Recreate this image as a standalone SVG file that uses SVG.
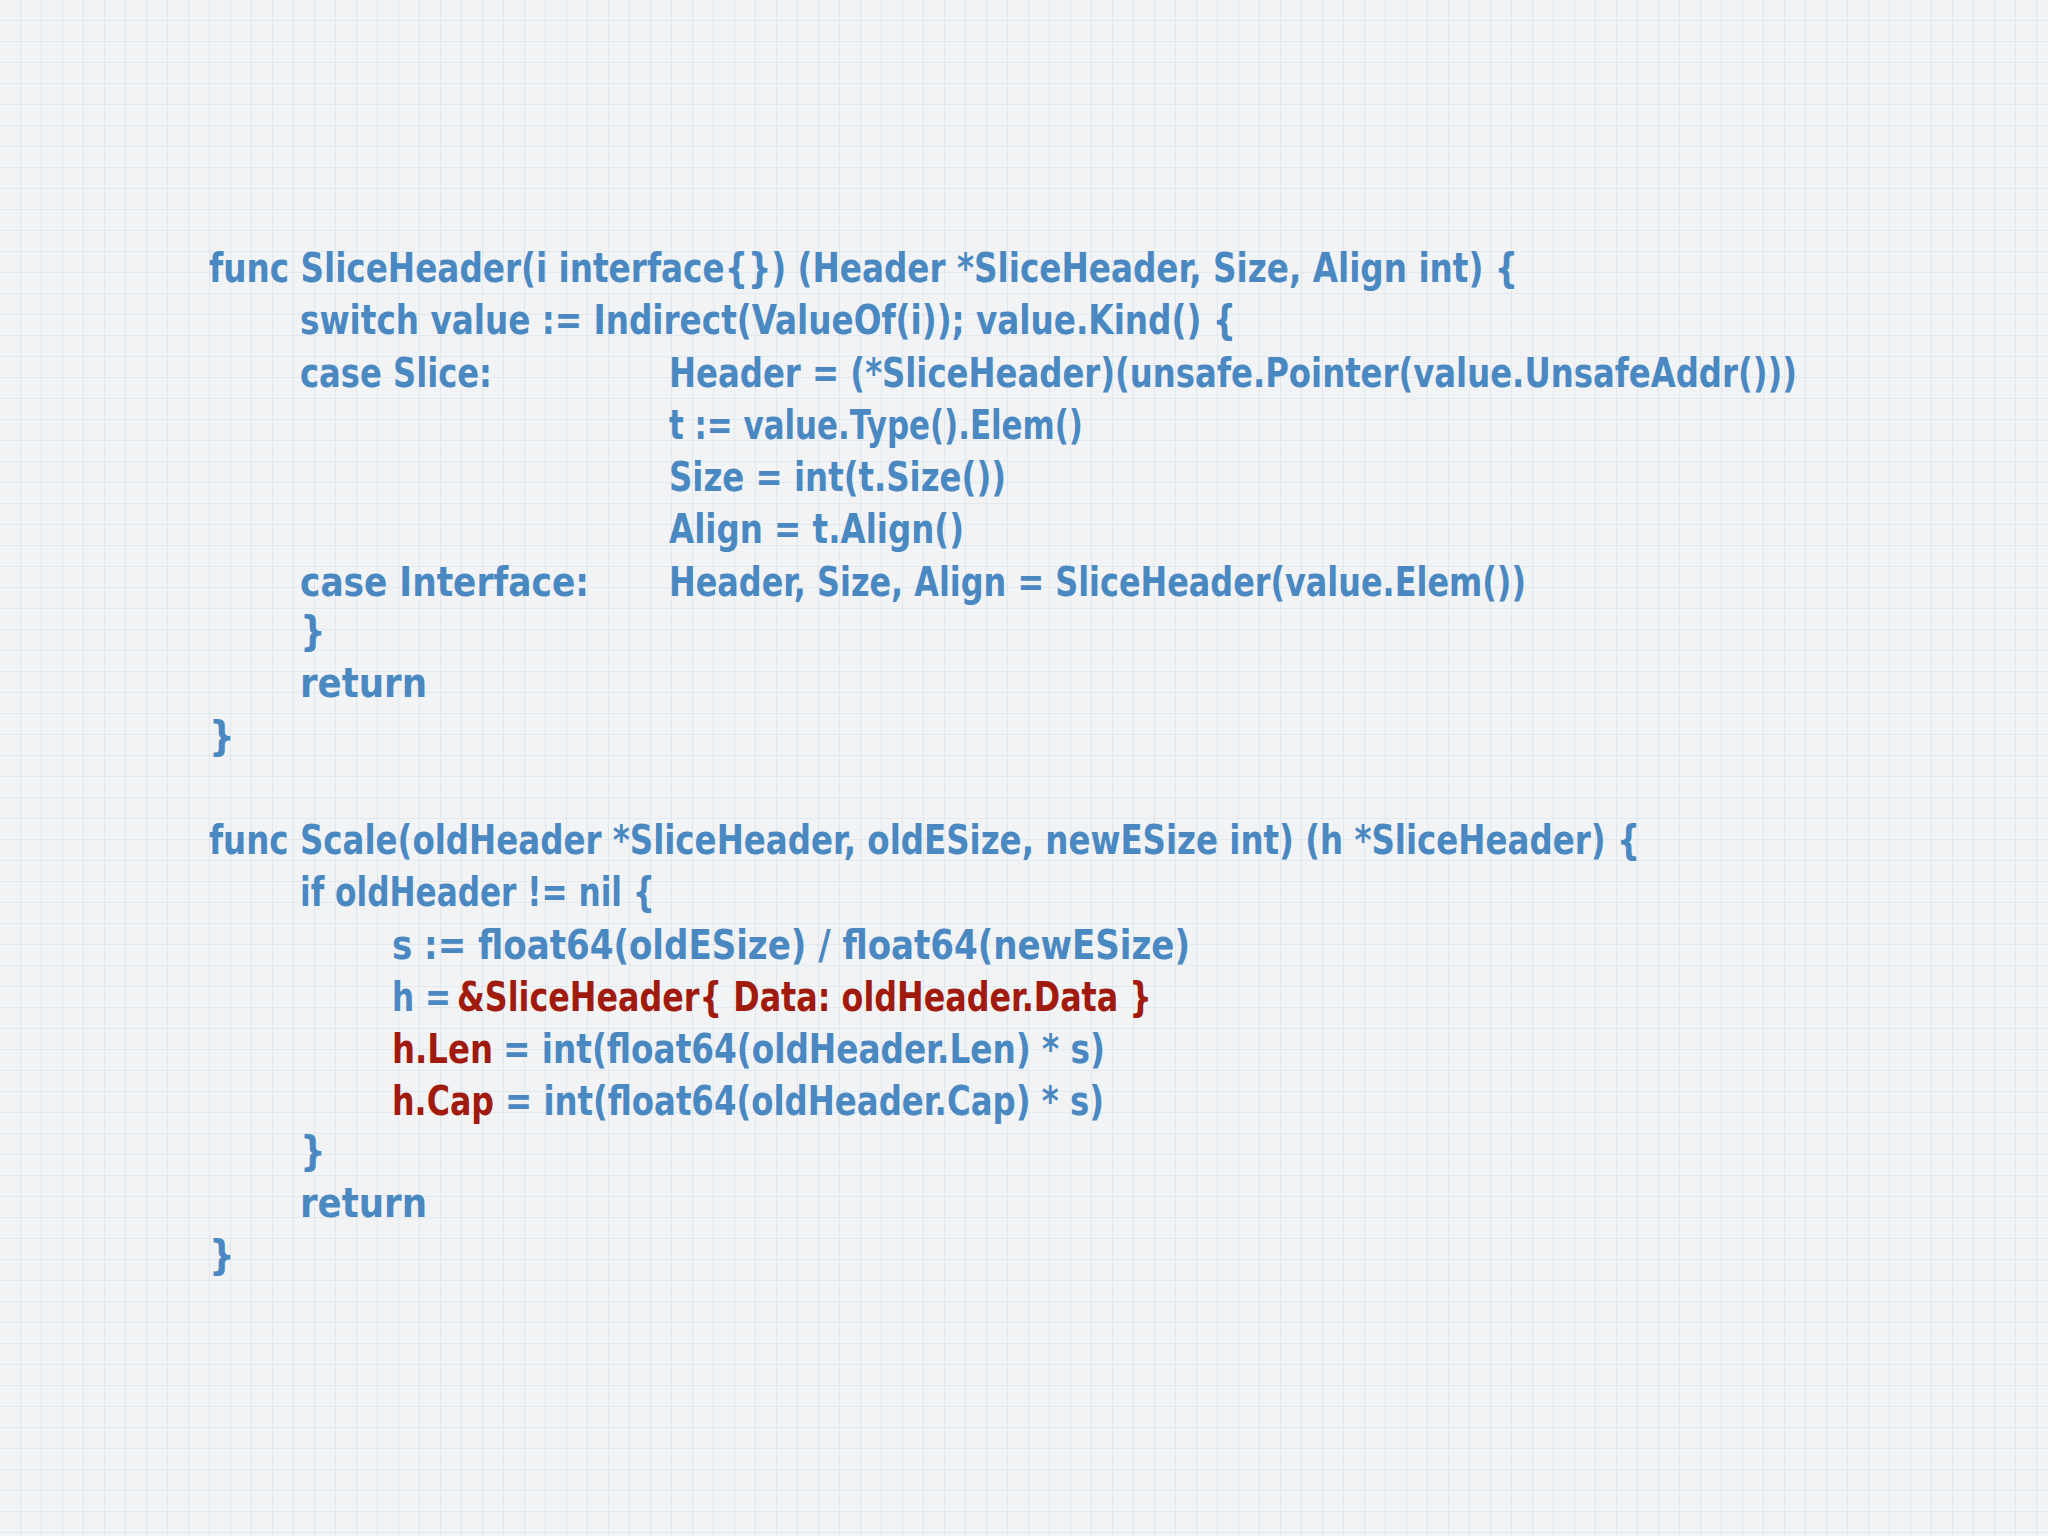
<svg xmlns="http://www.w3.org/2000/svg" width="2048" height="1536" viewBox="0 0 2048 1536">
<defs>
<pattern id="g" width="21" height="21" patternUnits="userSpaceOnUse">
<path d="M21 0V21M0 21H21" stroke="#d6e0e8" stroke-width="1.2" fill="none"/>
</pattern>
<style>
text{font-family:"DejaVu Sans Condensed","DejaVu Sans",sans-serif;font-size:40px;font-weight:bold;fill:#4a88c2}
.r{fill:#a11a0e}
</style>
</defs>
<rect width="2048" height="1536" fill="#f1f3f4"/>
<rect width="2048" height="1536" fill="url(#g)"/>
<g id="code1">
<text x="209" y="282" textLength="1309" lengthAdjust="spacingAndGlyphs">func SliceHeader(i interface{}) (Header *SliceHeader, Size, Align int) {</text>
<text x="300" y="334" textLength="936" lengthAdjust="spacingAndGlyphs">switch value := Indirect(ValueOf(i)); value.Kind() {</text>
<text x="300" y="387" textLength="192" lengthAdjust="spacingAndGlyphs">case Slice:</text>
<text x="669" y="387" textLength="1128" lengthAdjust="spacingAndGlyphs">Header = (*SliceHeader)(unsafe.Pointer(value.UnsafeAddr()))</text>
<text x="669" y="439" textLength="414" lengthAdjust="spacingAndGlyphs">t := value.Type().Elem()</text>
<text x="669" y="491" textLength="337" lengthAdjust="spacingAndGlyphs">Size = int(t.Size())</text>
<text x="669" y="543" textLength="295" lengthAdjust="spacingAndGlyphs">Align = t.Align()</text>
<text x="300" y="596" textLength="289" lengthAdjust="spacingAndGlyphs">case Interface:</text>
<text x="669" y="596" textLength="857" lengthAdjust="spacingAndGlyphs">Header, Size, Align = SliceHeader(value.Elem())</text>
<text x="300" y="645">}</text>
<text x="300" y="697" textLength="127" lengthAdjust="spacingAndGlyphs">return</text>
<text x="209" y="750">}</text>
</g>
<g id="code2">
<text x="209" y="854" textLength="1431" lengthAdjust="spacingAndGlyphs">func Scale(oldHeader *SliceHeader, oldESize, newESize int) (h *SliceHeader) {</text>
<text x="300" y="906" textLength="355" lengthAdjust="spacingAndGlyphs">if oldHeader != nil {</text>
<text x="392" y="959" textLength="798" lengthAdjust="spacingAndGlyphs">s := float64(oldESize) / float64(newESize)</text>
<text x="392" y="1011" textLength="59" lengthAdjust="spacingAndGlyphs">h =</text>
<text class="r" x="457" y="1011" textLength="695" lengthAdjust="spacingAndGlyphs">&amp;SliceHeader{ Data: oldHeader.Data }</text>
<text class="r" x="392" y="1063" textLength="101" lengthAdjust="spacingAndGlyphs">h.Len</text>
<text x="503" y="1063" textLength="602" lengthAdjust="spacingAndGlyphs">= int(float64(oldHeader.Len) * s)</text>
<text class="r" x="392" y="1115" textLength="102" lengthAdjust="spacingAndGlyphs">h.Cap</text>
<text x="505" y="1115" textLength="599" lengthAdjust="spacingAndGlyphs">= int(float64(oldHeader.Cap) * s)</text>
<text x="300" y="1165">}</text>
<text x="300" y="1217" textLength="127" lengthAdjust="spacingAndGlyphs">return</text>
<text x="209" y="1269">}</text>
</g>
</svg>
